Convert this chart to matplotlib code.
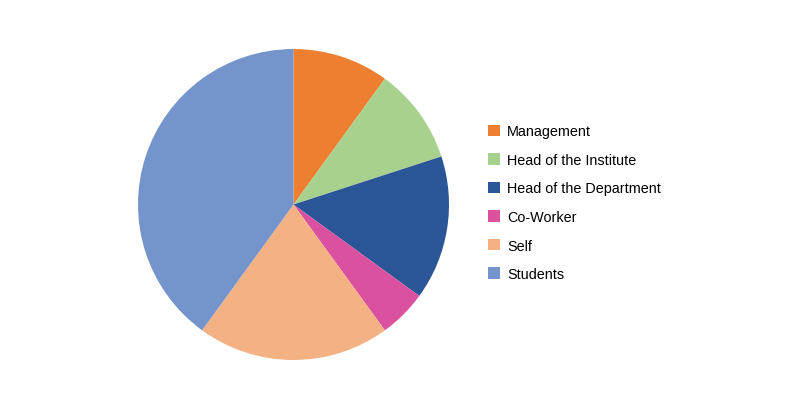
import matplotlib
matplotlib.use("Agg")
import matplotlib.pyplot as plt
from matplotlib.patches import Patch

categories = ["Management", "Head of the Institute", "Head of the Department",
              "Co-Worker", "Self", "Students"]
values = [10, 10, 15, 5, 20, 40]
colors = ["#EE7F31", "#A9D18E", "#2A5597", "#D9519F", "#F4B183", "#7494CB"]

plt.rcParams['font.family'] = ['Liberation Sans', 'DejaVu Sans']

fig = plt.figure(figsize=(8, 4.1), dpi=100)
ax = fig.add_axes([0.1725, 0.1195, 0.38875, 0.7585])
ax.pie(values, colors=colors, startangle=90, counterclock=False, radius=1,
       wedgeprops=dict(linewidth=0))
ax.set_xlim(-1, 1)
ax.set_ylim(-1, 1)
ax.set_aspect('equal')
ax.axis('off')

handles = [Patch(facecolor=c, edgecolor='none') for c in colors]
fig.legend(handles, categories, loc='upper left', bbox_to_anchor=(0.61, 0.694),
           frameon=False, fontsize=10.35, handlelength=0.82, handleheight=0.82,
           handletextpad=0.5, labelspacing=1.01, borderaxespad=0, borderpad=0)

fig.savefig("out.png", dpi=100)
